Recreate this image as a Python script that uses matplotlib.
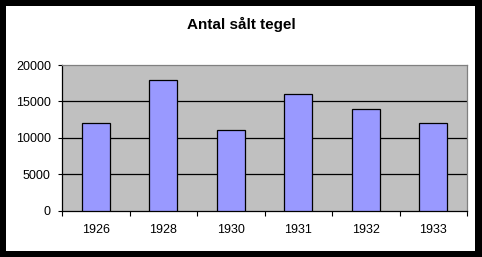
import matplotlib
matplotlib.use("Agg")
import matplotlib.pyplot as plt
from matplotlib.patches import Rectangle

# data
years = ["1926", "1928", "1930", "1931", "1932", "1933"]
sold = [12000, 18000, 11000, 16000, 14000, 12000]
yticks = [0, 5000, 10000, 15000, 20000]

plt.rcParams["font.family"] = ["Liberation Sans", "DejaVu Sans"]

W, H = 482, 257
fig = plt.figure(figsize=(W / 100, H / 100), dpi=100, facecolor="black")

# white chart area inside the black frame
fig.patches.append(Rectangle((6 / W, 1 - 251 / H), (475 - 6) / W, (251 - 6) / H,
                             transform=fig.transFigure, fc="white", ec="none", zorder=-1))

ax = fig.add_axes([62 / W, 1 - 210.5 / H, (467 - 62) / W, (210.5 - 65) / H])
ax.set_zorder(1)
ax.set_facecolor("#C0C0C0")

x = range(len(years))
ax.bar(x, sold, width=0.42, color="#9999FF", edgecolor="black", linewidth=0.9, zorder=3)

ax.set_xlim(-0.5, len(years) - 0.5)
ax.set_ylim(0, 20000)
ax.set_yticks(yticks)
ax.set_yticklabels([str(v) for v in yticks], fontsize=9)
ax.set_xticks([i - 0.5 for i in range(len(years) + 1)])
ax.set_xticklabels([])
ax.set_xticks(list(x), minor=True)
ax.set_xticklabels(years, minor=True, fontsize=9)

ax.tick_params(axis="y", length=3, width=0.8, pad=5)
ax.tick_params(axis="x", which="major", length=3.5, width=0.8, direction="out")
ax.tick_params(axis="x", which="minor", length=0, pad=10)

for v in yticks[1:-1]:
    ax.axhline(v, color="black", lw=0.9, zorder=1)

ax.spines["left"].set_color("black")
ax.spines["bottom"].set_color("black")
ax.spines["top"].set_color("#808080")
ax.spines["right"].set_color("#808080")
for s in ax.spines.values():
    s.set_linewidth(0.9)

fig.text(241 / W, 1 - 24.5 / H, "Antal sålt tegel", ha="center", va="center",
         fontsize=11, fontweight="bold")

fig.savefig("out.png", dpi=100, facecolor="black")
